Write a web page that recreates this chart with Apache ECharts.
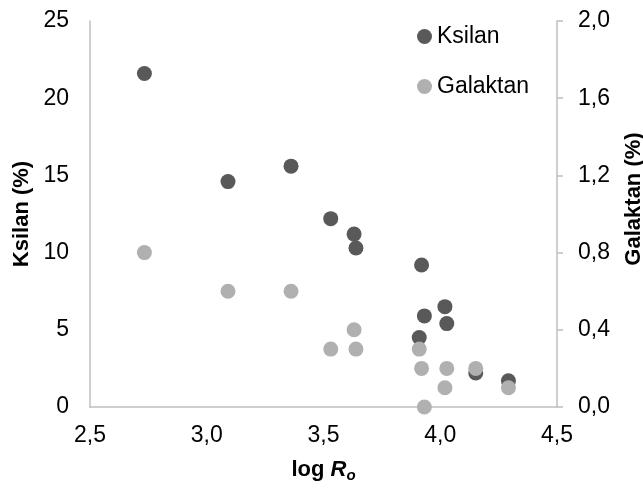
<!DOCTYPE html>
<html>
<head>
<meta charset="utf-8">
<script src="https://cdn.jsdelivr.net/npm/echarts@6/dist/echarts.min.js"></script>
<style>
  html, body { margin: 0; padding: 0; background: #fff; overflow: hidden; }
  #chart { position: fixed; left: 0; top: 0; width: 643px; height: 488px; }
</style>
</head>
<body>
<div id="chart"></div>
<script>
// Sample measurements: log Ro versus xylan and galactan content
const logRo    = [2.733, 3.091, 3.361, 3.531, 3.631, 3.639, 3.910, 3.920, 3.932, 4.020, 4.028, 4.152, 4.292];
const ksilan   = [21.6, 14.6, 15.6, 12.2, 11.2, 10.3, 4.5, 9.2, 5.9, 6.5, 5.4, 2.2, 1.7];
const galaktan = [0.8, 0.6, 0.6, 0.3, 0.4, 0.3, 0.3, 0.2, 0.0, 0.1, 0.2, 0.2, 0.1];

const seriesNames = ['Ksilan', 'Galaktan'];
const axisTitles = { left: 'Ksilan (%)', right: 'Galaktan (%)' };

const FONT = '"Liberation Sans", Arial, sans-serif';
const AXIS_GRAY = '#bfbfbf';
const comma1 = v => v.toFixed(1).replace('.', ',');

const pairs = (xs, ys) => xs.map((x, i) => [x, ys[i]]);

const chart = echarts.init(document.getElementById('chart'), null, { renderer: 'canvas', width: 643, height: 488 });

chart.setOption({
  animation: false,
  textStyle: { fontFamily: FONT },
  grid: { left: 90, right: 86, top: 21, bottom: 81, containLabel: false, outerBoundsMode: 'none' },
  legend: {
    data: seriesNames,
    orient: 'vertical',
    left: 412,
    top: 20,
    itemWidth: 15,
    itemHeight: 15,
    itemGap: 27,
    icon: 'circle',
    textStyle: { fontFamily: FONT, fontSize: 23, color: '#000' }
  },
  xAxis: {
    type: 'value',
    min: 2.5, max: 4.5, interval: 0.5,
    name: '{b|log }{bi|R}{sub|o}',
    nameLocation: 'middle',
    nameGap: 49,
    nameTextStyle: {
      rich: {
        b:   { fontFamily: FONT, fontSize: 22, fontWeight: 'bold', color: '#000' },
        bi:  { fontFamily: FONT, fontSize: 22, fontWeight: 'bold', fontStyle: 'italic', color: '#000' },
        sub: { fontFamily: FONT, fontSize: 15, fontWeight: 'bold', fontStyle: 'italic', color: '#000', padding: [12, 0, 0, 0] }
      }
    },
    axisLine: { show: true, lineStyle: { color: AXIS_GRAY, width: 1.5 } },
    axisTick: { show: false },
    splitLine: { show: false },
    axisLabel: { fontFamily: FONT, fontSize: 23, color: '#000', margin: 17, formatter: comma1 }
  },
  yAxis: [
    {
      type: 'value',
      position: 'left',
      min: 0, max: 25, interval: 5,
      name: axisTitles.left,
      nameLocation: 'middle',
      nameGap: 56,
      nameTextStyle: { fontFamily: FONT, fontSize: 22, fontWeight: 'bold', color: '#000' },
      axisLine: { show: true, lineStyle: { color: AXIS_GRAY, width: 1.5 } },
      axisTick: { show: false },
      splitLine: { show: false },
      axisLabel: { fontFamily: FONT, fontSize: 23, color: '#000', margin: 21 }
    },
    {
      type: 'value',
      position: 'right',
      min: 0, max: 2.0, interval: 0.4,
      name: axisTitles.right,
      nameLocation: 'middle',
      nameGap: 66,
      nameTextStyle: { fontFamily: FONT, fontSize: 22, fontWeight: 'bold', color: '#000', padding: [0, 0, 0, 30] },
      axisLine: { show: true, lineStyle: { color: AXIS_GRAY, width: 1.5 } },
      axisTick: { show: true, inside: false, length: 6, lineStyle: { color: AXIS_GRAY, width: 1.5 } },
      splitLine: { show: false },
      axisLabel: { fontFamily: FONT, fontSize: 23, color: '#000', margin: 21, formatter: comma1 }
    }
  ],
  series: [
    {
      name: seriesNames[0],
      type: 'scatter',
      yAxisIndex: 0,
      symbol: 'circle',
      symbolSize: 15,
      itemStyle: { color: '#595959', opacity: 1 },
      z: 2,
      data: pairs(logRo, ksilan)
    },
    {
      name: seriesNames[1],
      type: 'scatter',
      yAxisIndex: 1,
      symbol: 'circle',
      symbolSize: 15,
      itemStyle: { color: '#b0b0b0', opacity: 1 },
      z: 3,
      data: pairs(logRo, galaktan)
    }
  ]
});
</script>
</body>
</html>
